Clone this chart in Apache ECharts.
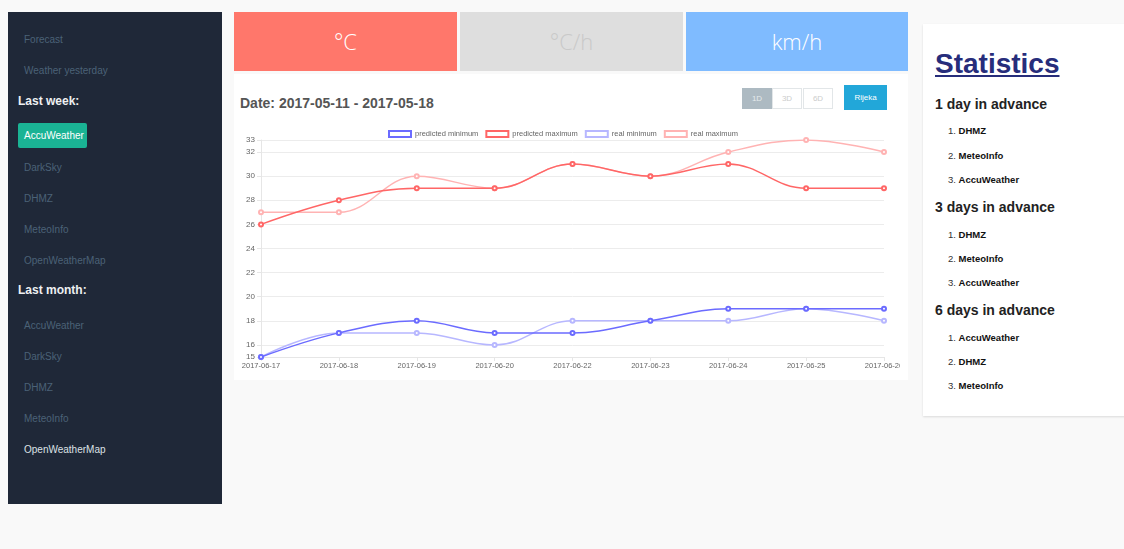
<!DOCTYPE html>
<html>
<head>
<meta charset="utf-8">
<script src="https://cdn.jsdelivr.net/npm/echarts@6/dist/echarts.min.js"></script>
<style>
  html, body { margin: 0; padding: 0; }
  body {
    width: 1124px; height: 549px; background: #f9f9f9; position: relative; overflow: hidden;
    font-family: "Liberation Sans", Arial, sans-serif;
  }
  .sidebar { position: absolute; left: 8px; top: 12px; width: 214px; height: 492px; background: #1f2838; }
  .sidebar .item { position: absolute; left: 16px; font-size: 10px; color: #4b6277; }
  .sidebar .head { position: absolute; left: 10px; font-size: 12px; font-weight: bold; color: #eef0f2; }
  .sidebar .active { position: absolute; left: 10px; width: 69px; height: 25px; background: #1ab394; border-radius: 2px;
    color: #fff; font-size: 10px; line-height: 25px; padding-left: 6px; box-sizing: border-box; }
  .tile { position: absolute; top: 12px; height: 59px; width: 223px; text-align: center; line-height: 59px;
    font-family: "Open Sans", "DejaVu Sans", sans-serif; font-size: 22px; font-weight: 300; }
  .panel { position: absolute; left: 234px; top: 74px; width: 674px; height: 306px; background: #fff; }
  .title { position: absolute; left: 240px; top: 95px; font-size: 14px; font-weight: bold; color: #555; }
  .btn { position: absolute; top: 88px; height: 21px; width: 30px; box-sizing: border-box; border: 1px solid #e2e6e8;
    font-size: 8px; line-height: 19px; text-align: center; color: #ccc; background: #fff; }
  .rijeka { position: absolute; left: 844px; top: 85px; width: 43px; height: 25px; background: #22a7d9; color: #fff;
    font-size: 8px; line-height: 25px; text-align: center; }
  #chart { position: absolute; left: 238px; top: 120px; width: 662px; height: 256px; }
  .stats { position: absolute; left: 923px; top: 24px; width: 210px; height: 392px; background: #fff;
    box-shadow: 0 1px 2px rgba(0,0,0,0.12); }
  .stats h1 { position: absolute; left: 12px; top: 24px; margin: 0; font-size: 28px; font-weight: bold; color: #272d7b;
    text-decoration: underline; font-family: "Liberation Sans", Arial, sans-serif; }
  .stats h3 { position: absolute; left: 12px; margin: 0; font-size: 14px; font-weight: bold; color: #222; }
  .stats .li { position: absolute; left: 25px; font-size: 9.5px; color: #333; }
  .stats .li b { color: #111; }
</style>
</head>
<body>
<div class="sidebar">
  <div class="item" style="top:22px">Forecast</div>
  <div class="item" style="top:53px">Weather yesterday</div>
  <div class="head" style="top:82px">Last week:</div>
  <div class="active" style="top:111px">AccuWeather</div>
  <div class="item" style="top:150px">DarkSky</div>
  <div class="item" style="top:181px">DHMZ</div>
  <div class="item" style="top:212px">MeteoInfo</div>
  <div class="item" style="top:243px">OpenWeatherMap</div>
  <div class="head" style="top:271px">Last month:</div>
  <div class="item" style="top:308px">AccuWeather</div>
  <div class="item" style="top:339px">DarkSky</div>
  <div class="item" style="top:370px">DHMZ</div>
  <div class="item" style="top:401px">MeteoInfo</div>
  <div class="item" style="top:432px; color:#dde2e6">OpenWeatherMap</div>
</div>

<div class="tile" style="left:234px; background:#ff776b; color:#fff">°C</div>
<div class="tile" style="left:460px; background:#dedede; color:#c9c9c9">°C/h</div>
<div class="tile" style="left:686px; width:222px; background:#7fbbff; color:#fff">km/h</div>

<div class="panel"></div>
<div class="title">Date: 2017-05-11 - 2017-05-18</div>
<div class="btn" style="left:742px; background:#adbac2; border-color:#adbac2; color:#e6eaec">1D</div>
<div class="btn" style="left:772px">3D</div>
<div class="btn" style="left:803px">6D</div>
<div class="rijeka">Rijeka</div>
<div id="chart"></div>

<div class="stats">
  <h1>Statistics</h1>
  <h3 style="top:72px">1 day in advance</h3>
  <div class="li" style="top:101px">1. <b>DHMZ</b></div>
  <div class="li" style="top:126px">2. <b>MeteoInfo</b></div>
  <div class="li" style="top:150px">3. <b>AccuWeather</b></div>
  <h3 style="top:175px">3 days in advance</h3>
  <div class="li" style="top:205px">1. <b>DHMZ</b></div>
  <div class="li" style="top:229px">2. <b>MeteoInfo</b></div>
  <div class="li" style="top:253px">3. <b>AccuWeather</b></div>
  <h3 style="top:278px">6 days in advance</h3>
  <div class="li" style="top:308px">1. <b>AccuWeather</b></div>
  <div class="li" style="top:332px">2. <b>DHMZ</b></div>
  <div class="li" style="top:356px">3. <b>MeteoInfo</b></div>
</div>

<script>
const dates = ['2017-06-17', '2017-06-18', '2017-06-19', '2017-06-20', '2017-06-22',
  '2017-06-23', '2017-06-24', '2017-06-25', '2017-06-26']
const predictedMin = [15, 17, 18, 17, 17, 18, 19, 19, 19]
const predictedMax = [26, 28, 29, 29, 31, 30, 31, 29, 29]
const realMin = [15, 17, 17, 16, 18, 18, 18, 19, 18]
const realMax = [27, 27, 30, 29, 31, 30, 32, 33, 32]
const yTicks = [15, 16, 18, 20, 22, 24, 26, 28, 30, 32, 33]

const names = ['predicted minimum', 'predicted maximum', 'real minimum', 'real maximum']
const colors = ['#6b6bff', '#ff6666', '#b7b7ff', '#ffb3b3']
const values = [predictedMin, predictedMax, realMin, realMax]

const myChart = echarts.init(document.getElementById('chart'))
const option = {
  animation: false,
  textStyle: { fontFamily: 'Liberation Sans, Arial, sans-serif' },
  legend: {
    top: 5,
    left: 145,
    icon: 'rect',
    itemWidth: 22,
    itemHeight: 6,
    itemGap: 7,
    textStyle: { fontSize: 7.5, color: '#666', padding: [0, 0, 0, -1] },
    data: names.map((n, i) => ({
      name: n,
      itemStyle: { color: '#fff', borderColor: colors[i], borderWidth: 2 }
    }))
  },
  grid: { left: 23, right: 16, top: 20, bottom: 19, outerBoundsMode: 'none' },
  xAxis: {
    type: 'category',
    boundaryGap: false,
    data: dates,
    axisLine: { lineStyle: { color: '#e6e6e6' } },
    axisTick: { show: true, length: 4, lineStyle: { color: '#e6e6e6' } },
    axisLabel: { fontSize: 7.5, color: '#666', margin: 5, interval: 0, hideOverlap: false }
  },
  yAxis: {
    type: 'value',
    min: 15,
    max: 33,
    axisLine: { show: true, lineStyle: { color: '#e6e6e6' } },
    axisTick: { show: true, length: 4, customValues: yTicks, lineStyle: { color: '#e6e6e6' } },
    axisLabel: { fontSize: 8, color: '#666', margin: 6, customValues: yTicks },
    splitLine: { lineStyle: { color: '#ececec' } }
  },
  series: names.map((n, i) => ({
    name: n,
    type: 'line',
    smooth: 0.4,
    data: values[i],
    symbol: 'emptyCircle',
    symbolSize: 4,
    color: colors[i],
    lineStyle: { width: 1.5, color: colors[i] },
    itemStyle: { color: colors[i], borderWidth: 1 },
    z: 4 - i
  }))
}
option && myChart.setOption(option)
</script>
</body>
</html>
